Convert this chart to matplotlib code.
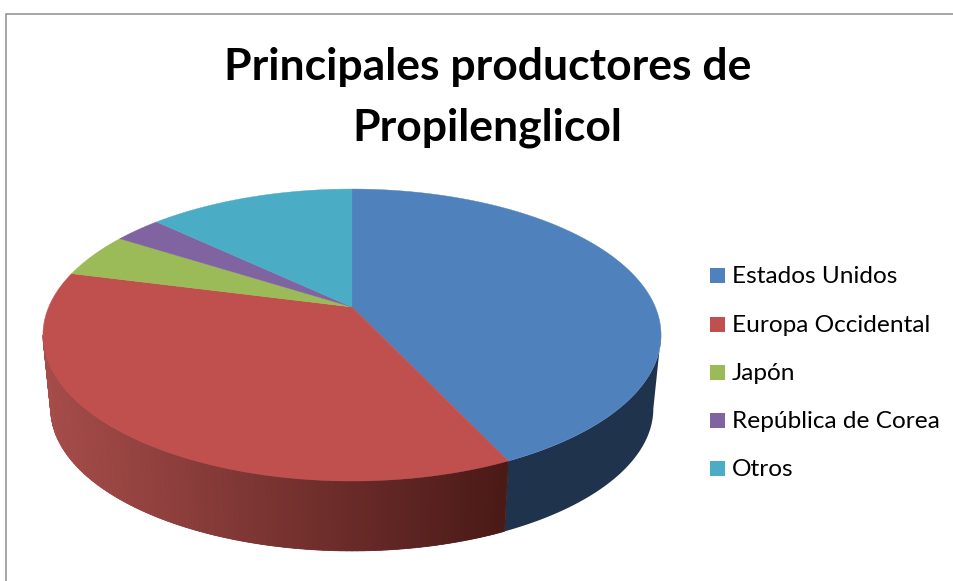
import numpy as np
import matplotlib
matplotlib.use("Agg")
import matplotlib.pyplot as plt
from matplotlib.collections import PolyCollection
from matplotlib.patches import Rectangle

title_lines = ["Principales productores de", "Propilenglicol"]
categories = ["Estados Unidos", "Europa Occidental", "Japón", "República de Corea", "Otros"]
values = [43, 36, 5, 3, 13]
top_colors = ["#4F81BD", "#C0504D", "#9BBB59", "#8064A2", "#4BACC6"]
side_left = [(0.12, 0.20, 0.30), (0.65, 0.30, 0.29), (0.45, 0.55, 0.25), (0.35, 0.27, 0.45), (0.2, 0.45, 0.52)]
side_right = [(0.12, 0.20, 0.30), (0.29, 0.10, 0.09), (0.3, 0.37, 0.17), (0.25, 0.19, 0.33), (0.14, 0.32, 0.38)]

CX, CY = 352.0, 307.0
A, B, K = 303.3, 140.6, 0.192
DEPTH, SHRINK = 74.3, 0.975

fig = plt.figure(figsize=(9.54, 5.81), dpi=100)
ax = fig.add_axes([0, 0, 1, 1])
ax.set_xlim(0, 954)
ax.set_ylim(581, 0)
ax.axis("off")


def project(theta, scale=1.0, dy=0.0):
    u, v = np.sin(theta), np.cos(theta)
    w = 1 + K * v
    return CX + scale * A * u / w, CY + dy - scale * B * v / w


ax.plot([6.5, 6.5, 954], [581, 13.5, 13.5], color="#8E8E8E", lw=1.1, solid_joinstyle="miter")

edges = np.cumsum([0] + values) / sum(values) * 2 * np.pi
front_lo = np.arccos(-K)
front_hi = 2 * np.pi - front_lo
for i in range(len(values)):
    th = np.linspace(edges[i], edges[i + 1], max(int(values[i] * 4), 8) + 1)
    th = np.unique(np.clip(th, front_lo, front_hi))
    if len(th) < 2:
        continue
    xt, yt = project(th)
    xb, yb = project(th, SHRINK, DEPTH)
    mid = 0.5 * (np.array(side_left[i]) + np.array(side_right[i]))
    ax.fill(np.r_[xt, xb[::-1]], np.r_[yt, yb[::-1]], facecolor=tuple(mid), edgecolor="none", zorder=2)
    if side_left[i] == side_right[i]:
        continue
    polys, cols = [], []
    for j in range(len(th) - 1):
        polys.append([(xt[j], yt[j]), (xt[j + 1], yt[j + 1]), (xb[j + 1], yb[j + 1]), (xb[j], yb[j])])
        f = np.clip(((xt[j] + xt[j + 1]) / 2 - 50) / 455, 0, 1)
        cols.append(tuple((1 - f) * np.array(side_left[i]) + f * np.array(side_right[i])))
    ax.add_collection(PolyCollection(polys, facecolors=cols, edgecolors=cols, linewidths=0.5, zorder=2))

for i in range(len(values)):
    th = np.linspace(edges[i], edges[i + 1], 200)
    x, y = project(th)
    ax.fill(np.r_[CX, x], np.r_[CY, y], facecolor=top_colors[i], edgecolor=top_colors[i], lw=0.3, zorder=3)

for line, ybase in zip(title_lines, [80, 141]):
    ax.text(487.5, ybase, line, ha="center", va="baseline", family="Lato", weight="bold", fontsize=32, color="black")

for i, name in enumerate(categories):
    yc = 275.8 + i * 48.2
    ax.add_patch(Rectangle((710, yc - 7.5), 15, 15, facecolor=top_colors[i], edgecolor="none"))
    ax.text(732, yc + 7.5, name, ha="left", va="baseline", family="Lato", fontsize=17.6, color="black")

fig.savefig("out.png", dpi=100, facecolor="white")
